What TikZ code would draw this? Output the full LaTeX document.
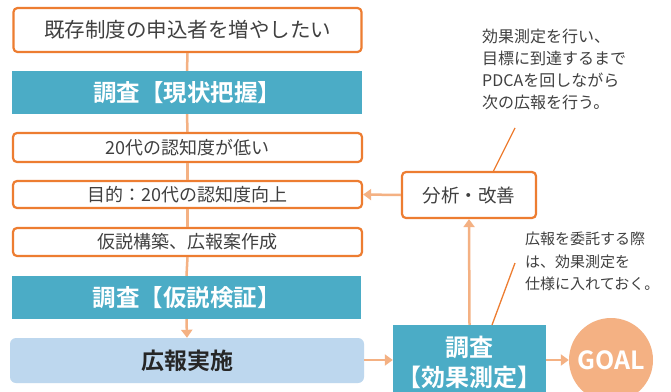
\documentclass[tikz,border=0pt]{standalone}
\usepackage{fontspec}
\setmainfont{Noto Sans CJK JP}[BoldFont={Noto Sans CJK JP Bold}]
\usetikzlibrary{arrows.meta}
\definecolor{orng}{HTML}{ED7D31}
\definecolor{lorng}{HTML}{F4B183}
\definecolor{teal1}{HTML}{4BACC6}
\definecolor{lblue}{HTML}{BDD7EE}
\definecolor{txt}{HTML}{404040}
\tikzset{
  obox/.style={draw=orng, line width=2.2pt, rounded corners=4pt, fill=white, text=txt, inner sep=0pt},
  tbox/.style={fill=teal1, text=white, font=\bfseries, inner sep=0pt},
  conn/.style={draw=lorng, line width=2.5pt},
  arr/.style={conn, -{Triangle[width=11pt,length=8pt]}},
  note/.style={text=txt, align=left, anchor=north west, inner sep=0pt},
  pointer/.style={draw=orng, line width=1.3pt}
}
\begin{document}
\begin{tikzpicture}[x=1pt,y=-1pt]
\useasboundingbox (0,0) rectangle (671,391);
\fill[white] (0,0) rectangle (671,391);
% left column
\node[obox, minimum width=348pt, minimum height=44pt, font=\fontsize{20.5}{20.5}\selectfont] (b1) at (187.5,30) {既存制度の申込者を増やしたい};
\node[tbox, minimum width=350pt, minimum height=43pt, font=\fontsize{23.5}{23.5}\bfseries] (t1) at (187,92.5) {調査【現状把握】};
\node[obox, minimum width=349pt, minimum height=29pt, font=\fontsize{18}{18}\selectfont] (b2) at (187.5,147.5) {20代の認知度が低い};
\node[obox, minimum width=349pt, minimum height=27pt, font=\fontsize{18}{18}\selectfont] (b3) at (187.5,194.5) {目的：20代の認知度向上};
\node[obox, minimum width=349pt, minimum height=28pt, font=\fontsize{18}{18}\selectfont] (b4) at (187.5,242) {仮説構築、広報案作成};
\node[tbox, minimum width=349pt, minimum height=43pt, font=\fontsize{23.5}{23.5}\bfseries] (t2) at (186.5,297.5) {調査【仮説検証】};
\node[fill=lblue, rounded corners=6pt, minimum width=354pt, minimum height=45pt, inner sep=0pt, font=\fontsize{23}{23}\bfseries, text=black!85] (kh) at (187,360.5) {広報実施};
% right side
\node[obox, minimum width=134pt, minimum height=46pt, font=\fontsize{18.5}{18.5}\selectfont] (an) at (469,195) {分析・改善};
\node[tbox, minimum width=153pt, minimum height=74pt, align=center, font=\fontsize{24}{30}\bfseries] (t3) at (469.5,362) {調査\\【効果測定】};
\node[circle, fill=lorng, minimum size=84pt, inner sep=0pt, text=white, font=\fontsize{25}{25}\bfseries] (goal) at (611,360) {GOAL};
% notes
\node[note, font=\fontsize{16}{22}\selectfont] (n1) at (482,29) {効果測定を行い、\\目標に到達するまで\\PDCAを回しながら\\次の広報を行う。};
\node[note, font=\fontsize{15}{22.5}\selectfont] (n2) at (525,232) {広報を委託する際\\は、効果測定を\\仕様に入れておく。};
\coordinate (p1) at (515,128);
\coordinate (p2) at (515,263);
% connectors
\draw[conn] (b1.south) -- (t1.north);
\draw[conn] (t1.south) -- (b2.north);
\draw[conn] (b2.south) -- (b3.north);
\draw[conn] (b3.south) -- (b4.north);
\draw[conn] (b4.south) -- (t2.north);
\draw[arr] (t2.south) -- (kh.north);
\draw[arr] (kh.east |- 0,360) -- (t3.west |- 0,360);
\draw[arr] (t3.east |- 0,360) -- (goal.west);
\draw[arr] (t3.north) -- (an.south);
\draw[arr] (an.west) -- (b3.east);
\draw[pointer] (p1) -- (493,172);
\draw[pointer] (p2) -- (492,325);
\end{tikzpicture}
\end{document}
